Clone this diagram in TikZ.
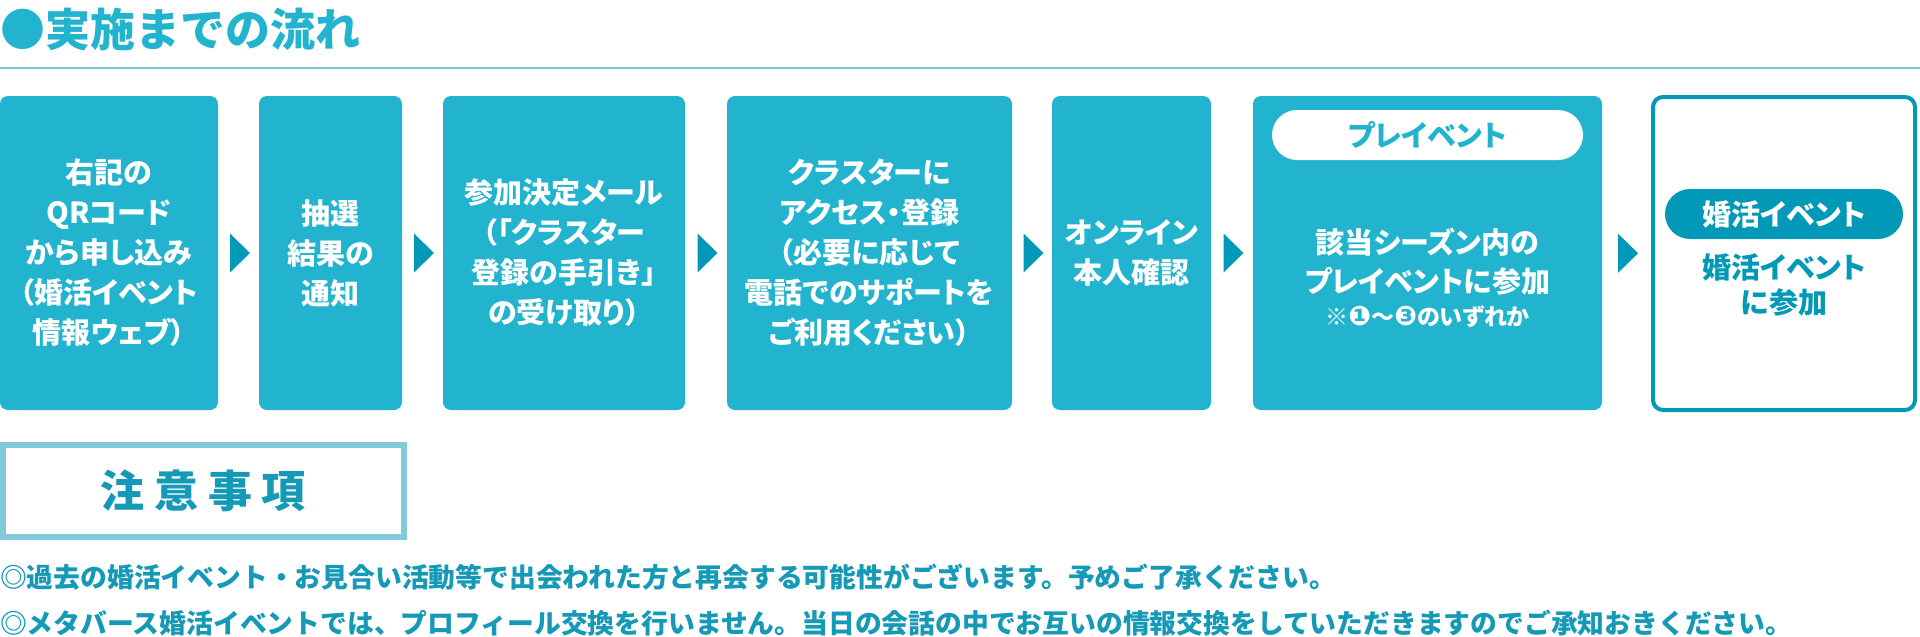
\documentclass[tikz,border=0pt]{standalone}
\usepackage{fontspec}
\setmainfont{Noto Sans CJK JP}
\newfontfamily\jpprop{Noto Sans CJK JP}[RawFeature=+palt]
\newfontfamily\dingfont{DejaVu Sans}
\usetikzlibrary{calc}

\definecolor{flowcyan}{HTML}{22B3CE}
\definecolor{flowdark}{HTML}{0199B7}
\definecolor{rulecyan}{HTML}{6CCCDF}
\definecolor{noteframe}{HTML}{80CADC}
\definecolor{notetext}{HTML}{1499B7}

\begin{document}
\begin{tikzpicture}[x=1pt, y=-1pt,
    flowbox/.style={fill=flowcyan, rounded corners=8pt, minimum height=314pt, inner sep=0pt,
      align=center, text=white, font=\jpprop\bfseries\fontsize{29}{40}\selectfont},
    pill/.style={rounded corners=25pt, minimum height=50pt, inner sep=0pt,
      font=\jpprop\bfseries\fontsize{29}{40}\selectfont},
    notes/.style={anchor=west, inner sep=0pt, text=notetext, font=\bfseries\fontsize{26.8}{30}\selectfont}]
                \useasboundingbox (0,0) rectangle (1920,637);
                % heading and rule
                \node[anchor=west, inner sep=0pt, text=flowcyan, font=\bfseries\fontsize{45}{45}\selectfont] (title) at (0,29) {●実施までの流れ};
                \coordinate (rule l) at (0,68);
                \coordinate (rule r) at (1920,68);
                \draw[rulecyan, line width=2pt] (rule l) -- (rule r);
                % steps
                \node[flowbox, minimum width=218pt] (apply) at (109,253) {右記の\\QRコード\\から申し込み\\（婚活イベント\\情報ウェブ）};
                \node[flowbox, minimum width=143pt] (lottery) at (330.5,253) {抽選\\結果の\\通知};
                \node[flowbox, minimum width=242pt] (mail) at (564,253) {参加決定メール\\（「クラスター\\登録の手引き」\\の受け取り）};
                \node[flowbox, minimum width=285pt] (cluster) at (869.5,253) {クラスターに\\アクセス・登録\\（必要に応じて\\電話でのサポートを\\ご利用ください）};
                \node[flowbox, minimum width=159pt] (verify) at (1131.5,253) {オンライン\\本人確認};
                \node[flowbox, minimum width=349pt] (preevent) at (1427.5,253) {};
                \node[pill, fill=white, text=flowcyan, minimum width=311pt] (pretag) at (1427.5,135) {プレイベント};
                \node[align=center, text=white, font=\jpprop\bfseries\fontsize{29}{39}\selectfont] (season) at (1427.5,262) {該当シーズン内の\\プレイベントに参加};
                \node[text=white, font=\jpprop\bfseries\fontsize{23}{26}\selectfont] (choice) at (1427.5,317) {※{\dingfont\bfseries\fontsize{27}{26}\selectfont ❶}〜{\dingfont\bfseries\fontsize{27}{26}\selectfont ❸}のいずれか};
                \node[draw=flowdark, line width=4pt, fill=white, rounded corners=10pt, minimum width=262pt, minimum height=313pt] (join) at (1784,253.5) {};
                \node[pill, fill=flowdark, text=white, minimum width=238pt] (jointag) at (1784,214) {婚活イベント};
                \node[align=center, text=flowdark, font=\jpprop\bfseries\fontsize{29}{35}\selectfont] (jointext) at (1784,284.5) {婚活イベント\\に参加};
                % arrow heads between the steps
                \foreach \a/\b in {apply/lottery, lottery/mail, mail/cluster, cluster/verify, verify/preevent, preevent/join}
                    \fill[flowdark] ($(\a.east)!0.5!(\b.west)+(1.5,0)$) +(-10,-19.5) -- +(10,0) -- +(-10,19.5) -- cycle;
                % notes
                \node[draw=noteframe, line width=6pt, minimum width=401pt, minimum height=92pt, text=notetext,
                    font=\bfseries\fontsize{44}{44}\selectfont\addfontfeature{LetterSpace=22}] (notice) at (203.5,491) {注意事項};
                \node[notes] (note one) at (0,577) {◎過去の婚活イベント・お見合い活動等で出会われた方と再会する可能性がございます。予めご了承ください。};
                \node[notes] (note two) at (0,623) {◎メタバース婚活イベントでは、プロフィール交換を行いません。当日の会話の中でお互いの情報交換をしていただきますのでご承知おきください。};
            \end{tikzpicture}
\end{document}
